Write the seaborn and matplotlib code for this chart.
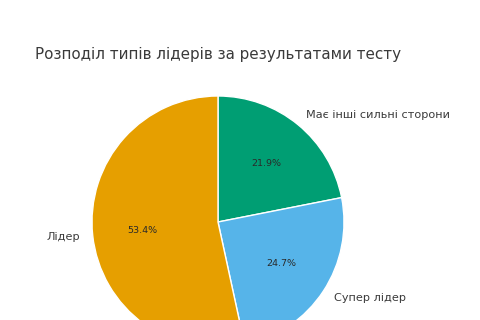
import matplotlib
matplotlib.use("Agg")
import matplotlib.pyplot as plt
import seaborn as sns

categories = ["Має інші сильні сторони", "Супер лідер", "Лідер"]
values = [21.9, 24.7, 53.4]
colors = ["#009E73", "#56B4E9", "#E69F00"]
title = "Розподіл типів лідерів за результатами тесту"

sns.set_theme(style="white")
plt.rcParams['font.family'] = ['DejaVu Sans']

W, H = 480, 320
fig = plt.figure(figsize=(W / 100, H / 100), dpi=100)
R = 126
cx, cy = 218, 222
size = 3 * R
ax = fig.add_axes([(cx - size / 2) / W, (H - cy - size / 2) / H, size / W, size / H])
wedges, texts, autotexts = ax.pie(
    values, labels=categories, colors=colors, autopct="%1.1f%%",
    startangle=90, counterclock=False,
    textprops=dict(fontsize=8.1, color="#3a3a3a"),
)
for t in autotexts:
    t.set_fontsize(6.8)
    t.set_color("#2a2a2a")
ax.set_xlim(-1.5, 1.5)
ax.set_ylim(-1.5, 1.5)
ax.set_aspect("equal")
ax.axis("off")
fig.text(cx / W, 1 - 54 / H, title, ha="center", va="center", fontsize=10.9, color="#3a3a3a")
fig.savefig("out.png", dpi=100)
